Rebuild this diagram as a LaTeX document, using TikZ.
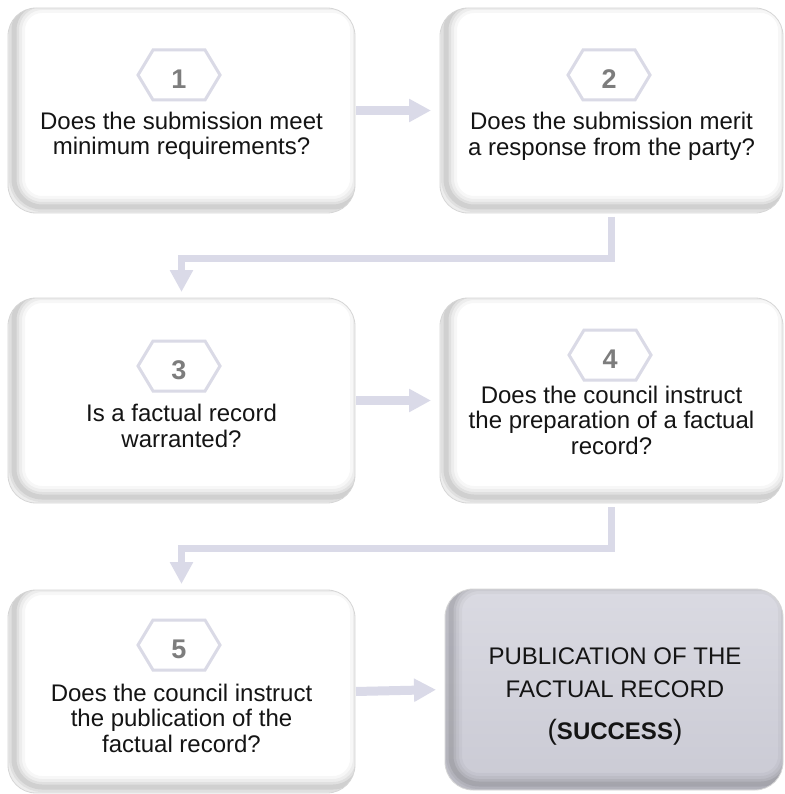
\documentclass[tikz,border=0pt]{standalone}
\usepackage{fontspec}
\setmainfont{Liberation Sans}
\usetikzlibrary{arrows.meta,calc}
\definecolor{arr}{RGB}{218,218,232}
\definecolor{hexc}{RGB}{218,218,230}
\definecolor{numc}{RGB}{125,125,125}
\definecolor{finA}{RGB}{218,218,226}
\definecolor{finB}{RGB}{202,202,212}
\tikzset{
  box/.style={rectangle, rounded corners=28pt, outer sep=0pt, inner sep=0pt},
  qtext/.style={font=\fontsize{24}{25.5}\selectfont, align=center, text=black!92},
  fintext/.style={font=\fontsize{24}{33}\selectfont, align=center, text=black!92},
  numtxt/.style={font=\fontsize{27}{27}\selectfont\bfseries, text=numc, inner sep=0pt},
  hexline/.style={draw=hexc, line width=3pt, line join=miter},
  harrow/.style={draw=arr, line width=9pt, -{Triangle[length=22pt,width=22pt]}, shorten >=9pt, shorten <=1pt},
  varrow/.style={draw=arr, line width=7pt, -{Triangle[length=22pt,width=22pt]}, shorten >=6pt, shorten <=4pt},
}
\newcommand\stepboxat[6]{%
  \node[box, #6, minimum width={#4-#2}, minimum height={#5-#3}] (#1) at ({(#2+#4)/2},{(#3+#5)/2}) {};
  \begin{scope}
    \clip[rounded corners=28pt] (#1.north west) rectangle (#1.south east);
    \foreach \w/\o in {22/0.03,16/0.04,10/0.05,5/0.07}{
      \draw[black, opacity=\o, line width=\w pt, rounded corners=28pt]
        ([xshift=6pt,yshift=6pt]#1.north west) rectangle ([xshift=6pt,yshift=6pt]#1.south east);
    }
  \end{scope}
  \draw[rounded corners=28pt, draw=black!16, line width=0.8pt] (#1.north west) rectangle (#1.south east);
}
\newcommand\hexnum[4]{%
  \coordinate (#1h) at (#2,#3);
  \node[numtxt] (#1) at (#2,#3+4) {#4};
  \draw[hexline] ([xshift=-41pt]#1h) -- ([xshift=-26pt,yshift=25pt]#1h) -- ([xshift=26pt,yshift=25pt]#1h)
     -- ([xshift=41pt]#1h) -- ([xshift=26pt,yshift=-25pt]#1h) -- ([xshift=-26pt,yshift=-25pt]#1h) -- cycle;
}
\begin{document}
\begin{tikzpicture}[x=1pt,y=-1pt]
  \fill[white] (0,0) rectangle (784,794);
  \useasboundingbox (0,0) rectangle (784,794);

  % boxes
  \stepboxat{b1}{8}{8}{355}{213}{fill=white}
  \stepboxat{b2}{440}{8}{783}{213}{fill=white}
  \stepboxat{b3}{8}{298}{355}{503}{fill=white}
  \stepboxat{b4}{440}{298}{783}{503}{fill=white}
  \stepboxat{b5}{8}{590}{355}{793}{fill=white}
  \stepboxat{b6}{445}{589}{783}{790}{top color=finA, bottom color=finB}

  % connectors
  \draw[harrow] (b1.east) -- (b2.west);
  \draw[harrow] (b3.east) -- (b4.west);
  \draw[harrow] (b5.east) -- (b6.west);
  \draw[varrow] (b2.south) -- ++(0,45) -| (b3.north);
  \draw[varrow] (b4.south) -- ++(0,45) -| (b5.north);

  % hexagon numbers
  \hexnum{n1}{179}{75}{1}
  \hexnum{n2}{609}{75}{2}
  \hexnum{n3}{179}{366}{3}
  \hexnum{n4}{610}{355}{4}
  \hexnum{n5}{179}{645}{5}

  % texts
  \node[qtext] (t1) at (181.5,136) {Does the submission meet\\minimum requirements?};
  \node[qtext] (t2) at (611.5,136.5) {Does the submission merit\\a response from the party?};
  \node[qtext] (t3) at (181.5,426) {Is a factual record\\warranted?};
  \node[qtext] (t4) at (611.5,420) {Does the council instruct\\the preparation of a factual\\record?};
  \node[qtext] (t5) at (181.5,718) {Does the council instruct\\the publication of the\\factual record?};
  \node[fintext] (t6) at (615,697) {PUBLICATION OF THE\\FACTUAL RECORD\\[9pt]{\fontsize{28}{28}\selectfont(}\textbf{SUCCESS}{\fontsize{28}{28}\selectfont)}};
\end{tikzpicture}
\end{document}
